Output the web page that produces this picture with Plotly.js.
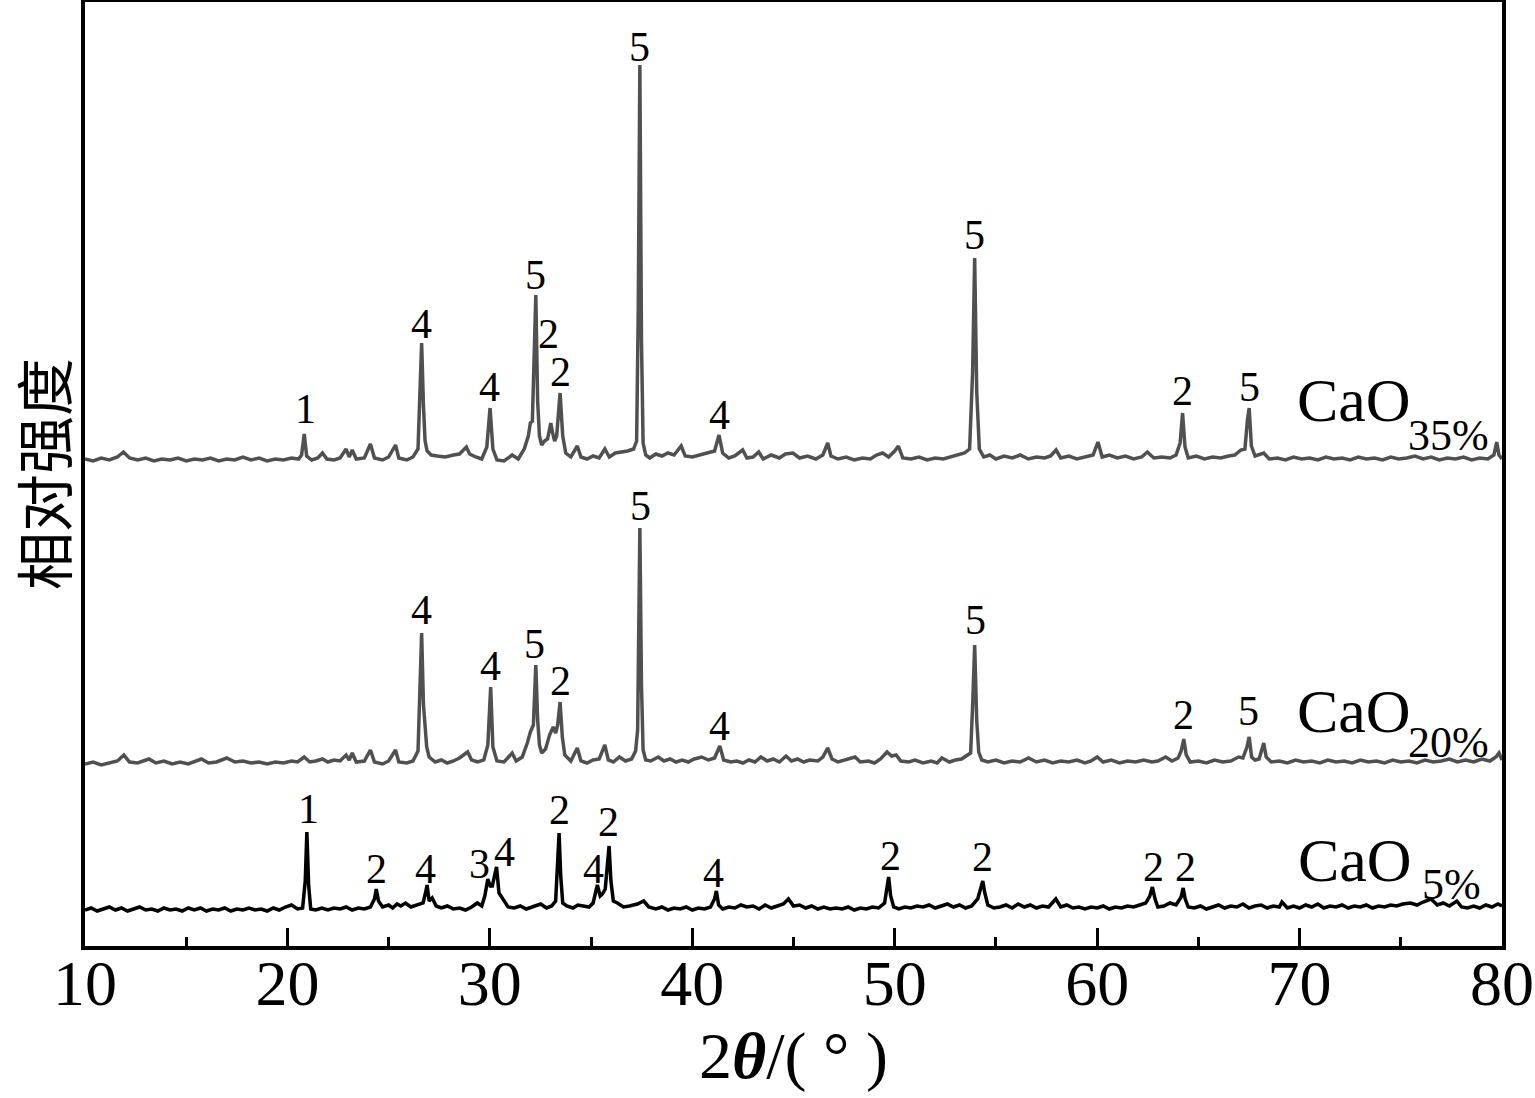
<!DOCTYPE html>
<html>
<head>
<meta charset="utf-8">
<script src="https://cdn.plot.ly/plotly-3.0.1.min.js"></script>
<style>html,body{margin:0;padding:0;background:#fff;}#chart{width:1535px;height:1098px;}</style>
</head>
<body>
<div id="chart"></div>
<script>
// Sample names and vertical offsets (arbitrary intensity units)
const samples = ['CaO35%', 'CaO20%', 'CaO5%'];
const offsets = [485, 181, 35];
const lineColors = ['#505050', '#505050', '#000000'];

// [2theta, relative intensity above baseline]
const pts35 = [[10.0,2],[10.4,0],[10.8,3],[11.2,1],[11.6,4],[11.9,9],[12.2,3],[12.6,1],[13.0,3],[13.4,0],[13.8,2],[14.2,1],[14.6,3],[15.0,0],[15.4,2],[15.8,1],[16.2,3],[16.6,0],[17.0,2],[17.4,1],[17.8,4],[18.2,1],[18.6,3],[19.0,0],[19.4,2],[19.8,1],[20.2,3],[20.55,2],[20.7,6],[20.83,27],[20.95,5],[21.2,1],[21.5,3],[21.73,8],[21.95,2],[22.3,1],[22.6,3],[22.9,12],[23.05,4],[23.2,11],[23.4,2],[23.8,3],[24.1,17],[24.3,3],[24.7,1],[25.0,4],[25.34,16],[25.5,3],[25.9,1],[26.2,4],[26.45,12],[26.55,60],[26.63,118],[26.72,55],[26.8,20],[26.9,10],[27.1,6],[27.4,5],[27.8,4],[28.2,6],[28.5,7],[28.84,14],[29.0,7],[29.3,4],[29.6,2],[29.85,14],[30.01,53],[30.15,12],[30.35,1],[30.7,0],[31.1,6],[31.4,2],[31.7,12],[31.9,25],[32.0,38],[32.1,40],[32.2,120],[32.27,166],[32.36,60],[32.45,25],[32.56,16],[32.7,20],[32.85,22],[33.01,38],[33.1,28],[33.2,20],[33.3,25],[33.47,68],[33.6,25],[33.75,8],[34.0,4],[34.32,15],[34.5,4],[34.8,2],[35.1,5],[35.4,3],[35.68,12],[35.9,4],[36.2,8],[36.5,9],[36.8,10],[37.1,12],[37.25,20],[37.33,150],[37.41,396],[37.49,120],[37.57,18],[37.7,6],[37.9,3],[38.2,7],[38.5,5],[38.8,8],[39.1,6],[39.45,15],[39.65,5],[40.0,4],[40.4,6],[40.8,8],[41.1,10],[41.32,26],[41.5,8],[41.8,3],[42.1,5],[42.49,11],[42.7,3],[43.0,4],[43.28,9],[43.5,2],[43.9,6],[44.3,3],[44.6,7],[44.97,8],[45.3,3],[45.7,5],[46.1,2],[46.45,6],[46.69,18],[46.85,5],[47.2,2],[47.6,4],[48.0,1],[48.4,3],[48.8,2],[49.1,6],[49.4,8],[49.7,4],[50.0,10],[50.18,15],[50.4,3],[50.8,2],[51.2,4],[51.6,1],[52.0,3],[52.4,2],[52.8,4],[53.2,6],[53.45,8],[53.7,12],[53.85,90],[53.95,203],[54.05,70],[54.18,12],[54.4,4],[54.7,6],[55.0,2],[55.4,5],[55.8,3],[56.2,6],[56.6,2],[57.0,4],[57.4,3],[57.7,5],[57.97,11],[58.2,3],[58.6,5],[59.0,2],[59.4,4],[59.8,6],[60.04,19],[60.25,4],[60.6,6],[61.0,3],[61.4,5],[61.8,2],[62.2,4],[62.48,9],[62.8,3],[63.2,4],[63.6,3],[63.9,6],[64.1,18],[64.22,48],[64.34,14],[64.5,3],[64.9,5],[65.3,2],[65.7,4],[66.1,3],[66.5,5],[66.8,6],[67.1,11],[67.3,12],[67.42,40],[67.51,53],[67.62,15],[67.8,5],[68.23,8],[68.5,2],[68.9,3],[69.3,1],[69.7,4],[70.1,2],[70.5,3],[70.9,1],[71.3,4],[71.7,2],[72.1,3],[72.5,1],[72.9,4],[73.3,2],[73.7,3],[74.1,1],[74.5,4],[74.9,2],[75.3,3],[75.7,5],[76.1,2],[76.5,4],[76.9,1],[77.3,3],[77.7,2],[78.1,4],[78.5,1],[78.9,3],[79.3,2],[79.6,6],[79.74,19],[79.85,6],[80.0,2]];

const pts20 = [[10.0,1],[10.4,3],[10.8,0],[11.2,2],[11.6,4],[11.92,10],[12.2,3],[12.6,2],[13.16,6],[13.5,2],[13.9,4],[14.3,1],[14.7,3],[15.1,1],[15.45,4],[15.75,6],[16.1,2],[16.5,3],[17.0,7],[17.4,3],[17.8,4],[18.2,2],[18.6,3],[19.0,1],[19.4,3],[19.8,2],[20.2,4],[20.5,3],[20.83,8],[21.1,3],[21.4,4],[21.73,6],[22.0,3],[22.3,5],[22.6,4],[22.9,10],[23.05,5],[23.2,12],[23.4,3],[23.8,4],[24.1,15],[24.3,3],[24.7,1],[25.0,4],[25.34,15],[25.5,3],[25.9,2],[26.2,4],[26.45,14],[26.55,70],[26.63,132],[26.72,60],[26.88,18],[27.0,8],[27.3,3],[27.6,5],[27.9,2],[28.2,4],[28.5,7],[28.9,13],[29.1,5],[29.4,3],[29.7,5],[29.9,20],[30.04,78],[30.15,18],[30.35,4],[30.7,3],[31.1,12],[31.3,4],[31.6,8],[31.85,22],[32.0,33],[32.15,40],[32.2,70],[32.27,100],[32.36,45],[32.45,20],[32.56,12],[32.75,16],[32.95,30],[33.13,38],[33.25,32],[33.35,40],[33.47,63],[33.58,28],[33.7,10],[34.0,4],[34.32,17],[34.5,4],[34.8,2],[35.1,5],[35.4,6],[35.68,20],[35.85,5],[36.1,3],[36.4,8],[36.7,4],[37.0,6],[37.2,14],[37.3,35],[37.33,120],[37.41,237],[37.49,80],[37.57,15],[37.7,5],[37.95,4],[38.32,8],[38.6,4],[38.9,6],[39.2,3],[39.5,5],[39.8,3],[40.1,6],[40.46,8],[40.8,5],[41.1,7],[41.36,19],[41.55,5],[41.9,3],[42.2,4],[42.5,2],[42.8,5],[43.1,3],[43.39,8],[43.7,4],[44.0,6],[44.3,3],[44.63,9],[44.9,4],[45.2,6],[45.5,3],[45.8,5],[46.2,4],[46.45,8],[46.69,17],[46.9,6],[47.2,3],[47.6,5],[48.04,8],[48.3,3],[48.7,4],[49.0,2],[49.3,6],[49.62,13],[49.85,9],[50.07,10],[50.3,4],[50.7,3],[51.0,5],[51.4,2],[51.8,4],[52.1,2],[52.33,7],[52.7,3],[53.0,5],[53.3,6],[53.57,10],[53.75,12],[53.85,60],[53.95,120],[54.05,45],[54.15,13],[54.3,5],[54.6,3],[55.0,5],[55.4,2],[55.8,4],[56.2,3],[56.61,7],[57.0,3],[57.4,5],[57.8,2],[58.2,4],[58.6,3],[59.0,5],[59.4,2],[59.7,4],[60.0,8],[60.3,3],[60.7,5],[61.1,2],[61.5,4],[61.9,3],[62.3,5],[62.7,3],[63.0,4],[63.38,8],[63.7,4],[64.0,7],[64.15,14],[64.28,26],[64.4,10],[64.6,3],[65.0,4],[65.4,2],[65.8,5],[66.2,3],[66.6,4],[66.99,8],[67.2,7],[67.4,18],[67.51,28],[67.63,8],[67.8,5],[68.0,6],[68.12,15],[68.23,22],[68.35,8],[68.6,3],[69.0,4],[69.4,2],[69.8,5],[70.2,3],[70.6,4],[71.0,2],[71.4,5],[71.8,3],[72.2,4],[72.6,2],[73.0,5],[73.4,3],[73.8,4],[74.2,2],[74.6,5],[75.0,3],[75.4,4],[75.8,2],[76.2,5],[76.6,3],[77.0,4],[77.4,6],[77.8,3],[78.2,5],[78.6,3],[79.0,6],[79.4,4],[79.7,8],[79.85,12],[80.0,5]];

const pts5 = [[10.0,1],[10.3,3],[10.6,0],[10.9,2],[11.2,4],[11.5,1],[11.8,3],[12.1,0],[12.4,2],[12.7,4],[13.0,1],[13.3,2],[13.6,0],[13.9,3],[14.2,1],[14.5,2],[14.8,0],[15.1,3],[15.4,1],[15.7,3],[16.0,0],[16.3,2],[16.6,1],[16.9,3],[17.2,0],[17.5,2],[17.8,1],[18.1,3],[18.4,1],[18.7,2],[19.0,0],[19.3,3],[19.6,1],[19.9,4],[20.2,6],[20.5,2],[20.75,3],[20.88,30],[20.96,79],[21.05,25],[21.15,2],[21.4,1],[21.7,3],[22.0,1],[22.3,3],[22.6,2],[22.9,4],[23.2,1],[23.5,3],[23.8,2],[24.1,4],[24.3,12],[24.39,22],[24.5,10],[24.7,4],[25.0,6],[25.2,3],[25.42,7],[25.6,5],[25.83,8],[26.1,4],[26.4,6],[26.7,8],[26.82,18],[26.9,26],[27.0,10],[27.15,13],[27.35,5],[27.6,3],[27.9,5],[28.2,2],[28.5,3],[28.8,1],[29.1,4],[29.38,8],[29.6,5],[29.75,15],[29.9,32],[30.02,25],[30.12,25],[30.22,35],[30.33,44],[30.45,18],[30.7,10],[30.9,4],[31.2,3],[31.5,5],[31.8,2],[32.1,4],[32.51,7],[32.8,3],[33.05,5],[33.25,10],[33.33,40],[33.42,78],[33.5,35],[33.6,8],[33.8,5],[34.1,3],[34.35,6],[34.65,5],[34.9,4],[35.1,8],[35.22,18],[35.31,26],[35.45,15],[35.56,17],[35.7,22],[35.8,45],[35.89,65],[35.98,30],[36.1,10],[36.3,8],[36.6,4],[36.9,5],[37.29,7],[37.6,10],[37.85,4],[38.2,2],[38.5,4],[38.8,1],[39.1,3],[39.4,2],[39.7,4],[40.0,1],[40.3,3],[40.6,2],[40.9,4],[41.1,12],[41.19,20],[41.3,6],[41.5,2],[41.8,4],[42.1,3],[42.4,6],[42.7,4],[43.0,5],[43.3,2],[43.6,6],[43.9,3],[44.2,5],[44.5,7],[44.75,12],[45.0,5],[45.3,6],[45.6,3],[45.9,5],[46.2,2],[46.5,4],[46.8,2],[47.1,3],[47.4,2],[47.7,4],[48.0,1],[48.3,3],[48.6,2],[48.9,4],[49.2,3],[49.5,8],[49.62,22],[49.7,34],[49.8,15],[49.95,4],[50.2,2],[50.5,4],[50.8,3],[51.1,5],[51.4,4],[51.7,6],[52.0,3],[52.3,5],[52.6,7],[52.9,4],[53.2,6],[53.5,3],[53.8,5],[54.1,12],[54.25,22],[54.35,30],[54.45,18],[54.6,6],[54.9,3],[55.2,4],[55.5,6],[55.8,3],[56.1,7],[56.4,4],[56.7,6],[57.0,3],[57.3,5],[57.6,4],[57.96,12],[58.2,4],[58.5,6],[58.8,3],[59.1,4],[59.4,2],[59.7,4],[60.0,3],[60.3,5],[60.6,2],[60.9,4],[61.2,3],[61.5,5],[61.8,4],[62.1,6],[62.4,8],[62.6,15],[62.73,24],[62.86,12],[63.0,4],[63.3,5],[63.6,8],[63.9,6],[64.15,14],[64.25,23],[64.35,12],[64.5,4],[64.8,3],[65.1,5],[65.4,2],[65.7,4],[66.0,6],[66.3,3],[66.6,5],[66.9,4],[67.2,7],[67.5,3],[67.8,5],[68.1,6],[68.4,3],[68.7,5],[69.0,4],[69.13,9],[69.4,3],[69.7,5],[70.0,3],[70.3,6],[70.6,4],[70.9,7],[71.2,3],[71.5,5],[71.8,4],[72.1,6],[72.4,3],[72.7,5],[73.0,4],[73.3,6],[73.6,3],[73.9,5],[74.2,4],[74.5,6],[74.8,5],[75.1,7],[75.48,8],[75.8,6],[76.1,9],[76.5,12],[76.8,6],[77.1,8],[77.4,5],[77.77,10],[78.0,4],[78.3,3],[78.6,5],[78.9,3],[79.2,6],[79.5,4],[79.8,7],[80.0,5]];

// Phase labels: [2theta, y (plot units), label]
const labels35 = [[20.89,537,'1'],[26.63,622,'4'],[30.0,559,'4'],[32.27,671,'5'],[32.9,612,'2'],[33.47,574,'2'],[37.41,899,'5'],[41.32,531,'4'],[53.95,711,'5'],[64.22,555,'2'],[67.51,559,'5']];
const labels20 = [[26.6,336,'4'],[30.04,280,'4'],[32.22,302,'5'],[33.5,265,'2'],[37.45,440,'5'],[41.32,220,'4'],[54.0,326,'5'],[64.28,231,'2'],[67.5,235,'5']];
const labels5 = [[21.05,137,'1'],[24.39,77,'2'],[26.82,77,'4'],[29.5,82,'3'],[30.73,94,'4'],[33.42,136,'2'],[35.12,77,'4'],[35.84,124,'2'],[41.07,73,'4'],[49.78,90,'2'],[54.35,89,'2'],[62.78,79,'2'],[64.36,79,'2']];

// Sample name labels: [x of 'CaO', y of 'CaO', x of subscript, y of subscript, subscript]
const nameLabels = [[69.75,546,75.25,511,'35%'],[69.75,235,75.25,204,'20%'],[69.8,86,75.95,62,'5%']];

const tickVals = [10,20,30,40,50,60,70,80];
const tickText = ['10','20','30','40','50','60','70','80'];

const serif = 'Liberation Serif, Times New Roman, serif';
const series = [pts35, pts20, pts5];
const traces = series.map((pts, i) => ({
  type: 'scatter', mode: 'lines', name: samples[i],
  x: pts.map(p => p[0]),
  y: pts.map(p => p[1] + offsets[i]),
  line: {color: lineColors[i], width: 3.5},
  hoverinfo: 'skip'
}));

const annotations = [];
[labels35, labels20, labels5].forEach(list => list.forEach(l => annotations.push({
  x: l[0], y: l[1], text: l[2], showarrow: false, xanchor: 'center', yanchor: 'middle',
  font: {family: serif, size: 42, color: '#000'}
})));
nameLabels.forEach(n => {
  annotations.push({x: n[0], y: n[1], text: 'CaO', showarrow: false, xanchor: 'left', yanchor: 'middle',
    font: {family: serif, size: 62, color: '#000'}});
  annotations.push({x: n[2], y: n[3], text: n[4], showarrow: false, xanchor: 'left', yanchor: 'middle',
    font: {family: serif, size: 44, color: '#000'}});
});

const layout = {
  width: 1535, height: 1098,
  margin: {l: 85, r: 33, t: 2, b: 152},
  paper_bgcolor: '#fff', plot_bgcolor: '#fff',
  showlegend: false,
  xaxis: {
    range: [10, 80], tickvals: tickVals, ticktext: tickText,
    ticks: 'inside', ticklen: 18, tickwidth: 3, tickcolor: '#000',
    minor: {dtick: 5, tick0: 5, ticks: 'inside', ticklen: 9, tickwidth: 3, tickcolor: '#000'},
    showline: true, linewidth: 4, linecolor: '#000', mirror: true,
    showgrid: false, zeroline: false,
    ticklabelstandoff: -22,
    tickfont: {family: serif, size: 64, color: '#000'},
    title: {text: '2<b><i>θ</i></b>/( ° )', font: {family: serif, size: 66, color: '#000'}, standoff: 4}
  },
  yaxis: {
    range: [0, 944], showticklabels: false, ticks: '',
    showline: true, linewidth: 4, linecolor: '#000', mirror: true,
    showgrid: false, zeroline: false,
    title: {text: '相对强度', font: {family: 'Noto Sans CJK SC', size: 58, color: '#000'}, standoff: 0}
  },
  annotations: annotations
};

Plotly.newPlot('chart', traces, layout, {staticPlot: true, displayModeBar: false});
</script>
</body>
</html>
